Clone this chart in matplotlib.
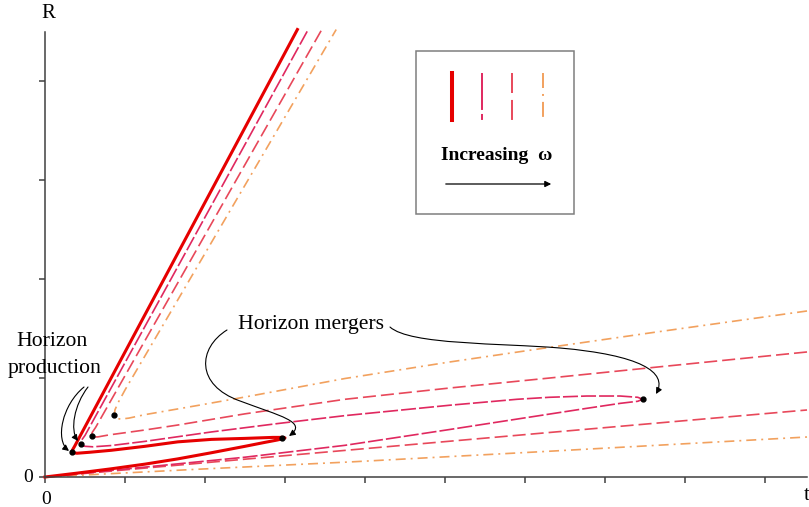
import matplotlib
matplotlib.use('Agg')
import matplotlib.pyplot as plt
from matplotlib.path import Path
from matplotlib.patches import FancyArrowPatch, Rectangle
from matplotlib.lines import Line2D

plt.rcParams['font.family'] = ['Liberation Serif', 'DejaVu Serif']
plt.rcParams['lines.scale_dashes'] = False

# horizon radius R against time t (one curve per omega)
# lowest omega: origin -> merger -> production -> outgoing horizon
solid_t = [0, 0.41, 0.83, 1.25, 1.66, 2.08, 2.5, 2.75, 2.9, 2.97, 3.0,
           2.97, 2.85, 2.5, 2.08, 1.66, 1.25, 0.83, 0.56, 0.40, 0.35, 0.34,
           0.345, 0.37, 3.155]
solid_R = [0, 0.04, 0.083, 0.13, 0.183, 0.245, 0.31, 0.35, 0.373, 0.386, 0.395,
           0.40, 0.40, 0.39, 0.38, 0.355, 0.31, 0.27, 0.25, 0.24, 0.245, 0.255,
           0.275, 0.31, 4.52]

crim_t = [0, 1.25, 2.5, 3.75, 5.06, 5.94, 6.775, 7.19, 7.41, 7.47,
          7.41, 7.19, 6.775, 6.3, 5.9, 5.06, 3.75, 2.91, 2.08, 1.25, 0.83, 0.6, 0.5, 0.455, 0.446,
          0.455, 0.5, 3.29]
crim_R = [0, 0.10, 0.20, 0.32, 0.48, 0.59, 0.694, 0.744, 0.765, 0.785,
          0.805, 0.818, 0.818, 0.805, 0.785, 0.725, 0.62, 0.54, 0.455, 0.36, 0.318, 0.305, 0.31, 0.32, 0.333,
          0.37, 0.42, 4.52]

red_low_t = [0, 1.25, 2.5, 3.81, 6.31, 9.525]
red_low_R = [0, 0.09, 0.18, 0.273, 0.45, 0.677]
red_up_t = [9.525, 7.56, 6.31, 5.06, 3.75, 2.5, 1.66, 1.25, 0.8, 0.66, 0.6, 0.584,
            0.59, 0.632, 3.46]
red_up_R = [1.263, 1.103, 1.0, 0.899, 0.785, 0.638, 0.525, 0.475, 0.425, 0.405, 0.405, 0.417,
            0.45, 0.50, 4.52]

orng_low_t = [0, 1.9, 3.81, 6.3, 9.525]
orng_low_R = [0, 0.078, 0.152, 0.26, 0.404]
orng_up_t = [9.525, 7.56, 6.31, 5.06, 3.75, 2.5, 1.94, 1.25, 1.05, 0.95, 0.9, 0.87, 0.866,
             0.875, 0.92, 1.0, 3.64]
orng_up_R = [1.677, 1.455, 1.31, 1.162, 0.995, 0.808, 0.727, 0.63, 0.595, 0.585, 0.59, 0.605, 0.626,
             0.68, 0.76, 0.879, 4.52]

# black dots: horizon production and merger events
prod_t = [0.34, 0.446, 0.584, 0.866]
prod_R = [0.255, 0.333, 0.417, 0.626]
merge_t = [2.96, 7.47]
merge_R = [0.391, 0.785]

c_solid = '#e60000'
c_crim = '#e0285f'
c_red = '#e8485a'
c_orng = '#f2a15e'
d_crim = (10.8, 2.2)
d_red = (9.4, 3.6)
d_orng = (7.2, 3.6, 1.4, 3.6)

W, H = 809, 507
fig = plt.figure(figsize=(W / 100, H / 100), dpi=100)


def px(x, y):
    return x / W, 1 - y / H


ax = fig.add_axes([45 / W, 30 / H, 762 / W, 445 / H])
ax.set_xlim(0, 9.525)
ax.set_ylim(0, 4.495)
for s in ['top', 'right']:
    ax.spines[s].set_visible(False)
for s in ['left', 'bottom']:
    ax.spines[s].set_color('#404040')
    ax.spines[s].set_linewidth(1.1)
ax.set_xticks(range(0, 10))
ax.set_yticks(range(0, 5))
ax.set_xticklabels([])
ax.set_yticklabels([])
ax.tick_params(direction='out', length=4.3, width=1.1, color='#404040')

ax.plot(orng_low_t, orng_low_R, color=c_orng, lw=1.2, dashes=d_orng, clip_on=False)
ax.plot(orng_up_t, orng_up_R, color=c_orng, lw=1.2, dashes=d_orng, clip_on=False)
ax.plot(red_low_t, red_low_R, color=c_red, lw=1.2, dashes=d_red, clip_on=False)
ax.plot(red_up_t, red_up_R, color=c_red, lw=1.2, dashes=d_red, clip_on=False)
ax.plot(crim_t, crim_R, color=c_crim, lw=1.2, dashes=d_crim, clip_on=False)
ax.plot(solid_t, solid_R, color=c_solid, lw=2.2, clip_on=False, solid_joinstyle='round')
ax.plot(prod_t, prod_R, 'o', color='k', ms=3.5, zorder=5)
ax.plot(merge_t, merge_R, 'o', color='k', ms=3.5, zorder=5)


def curve_arrow(pts):
    codes = [Path.MOVETO] + [Path.CURVE4] * (len(pts) - 1)
    a = FancyArrowPatch(path=Path(pts, codes), arrowstyle='-|>', mutation_scale=9,
                        lw=0.8, color='k', zorder=6)
    ax.add_patch(a)


curve_arrow([(0.4875, 0.909), (0.2125, 0.727), (0.125, 0.374), (0.30, 0.263)])
curve_arrow([(0.5375, 0.909), (0.3625, 0.727), (0.3125, 0.475), (0.4125, 0.364)])
curve_arrow([(2.275, 1.485), (1.9125, 1.303), (1.875, 0.929), (2.4375, 0.768),
             (2.9375, 0.616), (3.2875, 0.556), (3.05, 0.414)])
curve_arrow([(4.3125, 1.515), (4.5625, 1.333), (5.6875, 1.354), (6.4375, 1.303),
             (7.4375, 1.232), (7.7875, 1.061), (7.6375, 0.838)])

fs = 15.6
fig.text(*px(48, 14), 'R', fontsize=15, ha='center', va='center')
fig.text(*px(804, 495), 't', fontsize=15, ha='left', va='center')
fig.text(*px(28, 478), '0', fontsize=14, ha='center', va='center')
fig.text(*px(46, 500), '0', fontsize=14, ha='center', va='center')
fig.text(*px(52, 342), 'Horizon', fontsize=fs, ha='center', va='center')
fig.text(*px(55, 368), 'production', fontsize=fs, ha='center', va='center')
fig.text(*px(311, 325), 'Horizon mergers', fontsize=fs, ha='center', va='center')

# legend box
x0, y0 = px(416, 214)
fig.add_artist(Rectangle((x0, y0), 158 / W, 163 / H, transform=fig.transFigure,
                         fill=False, ec='#7f7f7f', lw=1.1))
key_x = [451.7, 481.7, 512.3, 543.3]
key_style = [(c_solid, 2.9, None), (c_crim, 1.4, (26.6, 2.9, 4.3, 10)),
             (c_red, 1.4, (14.4, 5)), (c_orng, 1.4, (10.8, 4.3, 1.4, 4.3))]
for kx, (col, lw, dsh) in zip(key_x, key_style):
    xa, ya = px(kx, 73)
    xb, yb = px(kx, 120)
    ln = Line2D([xa, xb], [ya, yb], transform=fig.transFigure, color=col, lw=lw)
    if dsh is not None:
        ln.set_dashes(dsh)
    fig.add_artist(ln)
fig.text(*px(497, 155), 'Increasing  \u03c9', fontsize=14, fontweight='bold',
         ha='center', va='center')
fig.add_artist(FancyArrowPatch(px(443, 184), px(554, 184), transform=fig.transFigure,
                               arrowstyle='-|>', mutation_scale=9, lw=0.9, color='k'))

fig.savefig('out.png', dpi=100)
